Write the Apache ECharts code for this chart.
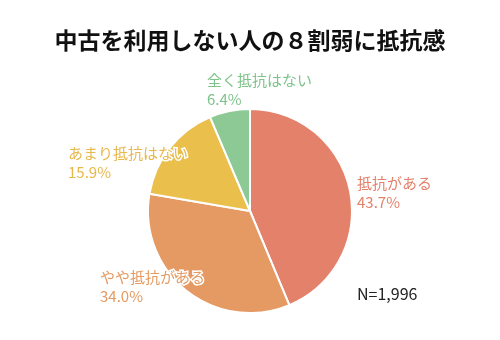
<!DOCTYPE html>
<html><head><meta charset="utf-8">
<script src="https://cdn.jsdelivr.net/npm/echarts@6/dist/echarts.min.js"></script>
<style>html,body{margin:0;padding:0;background:#fff}#c{width:500px;height:340px}</style>
</head><body><div id="c"></div>
<script>
const categories = ['抵抗がある', 'やや抵抗がある', 'あまり抵抗はない', '全く抵抗はない'];
const values = [43.7, 34.0, 15.9, 6.4];
const colors = ['#E4816A', '#E49A62', '#EBBF4C', '#8DC995'];
const textColors = ['#E4816A', '#E49A62', '#E8B84A', '#7EC38A'];
const labelPos = [[357, 174], [100, 268], [68, 144], [207, 71]];
const font = '"Noto Sans CJK JP", sans-serif';
const chart = echarts.init(document.getElementById('c'));
chart.setOption({
  animation: false,
  title: { text: '中古を利用しない人の８割弱に抵抗感', left: 'center', top: 24,
    textStyle: { fontFamily: font, fontSize: 23, fontWeight: 'bold', color: '#111' } },
  graphic: [{ type: 'text', left: 357, top: 286, style: { text: 'N=1,996', fontFamily: font, fontSize: 16, fill: '#222' } }],
  series: [{
    type: 'pie', center: [250, 211], radius: 102, startAngle: 90, clockwise: true,
    itemStyle: { borderColor: '#fff', borderWidth: 2 },
    labelLine: { show: false },
    data: categories.map((c, i) => ({ name: c, value: values[i], itemStyle: { color: colors[i] },
      label: { color: textColors[i] } })),
    label: { show: true, position: 'outside', overflow: 'none', width: 200, alignTo: 'none',
      fontFamily: font, fontSize: 15, lineHeight: 19,
      textBorderColor: '#fff', textBorderWidth: 3,
      formatter: p => p.name + '\n' + p.value.toFixed(1) + '%' },
    labelLayout: p => ({ x: labelPos[p.dataIndex][0], y: labelPos[p.dataIndex][1], align: 'left', verticalAlign: 'top', hideOverlap: false })
  }]
});
</script></body></html>
